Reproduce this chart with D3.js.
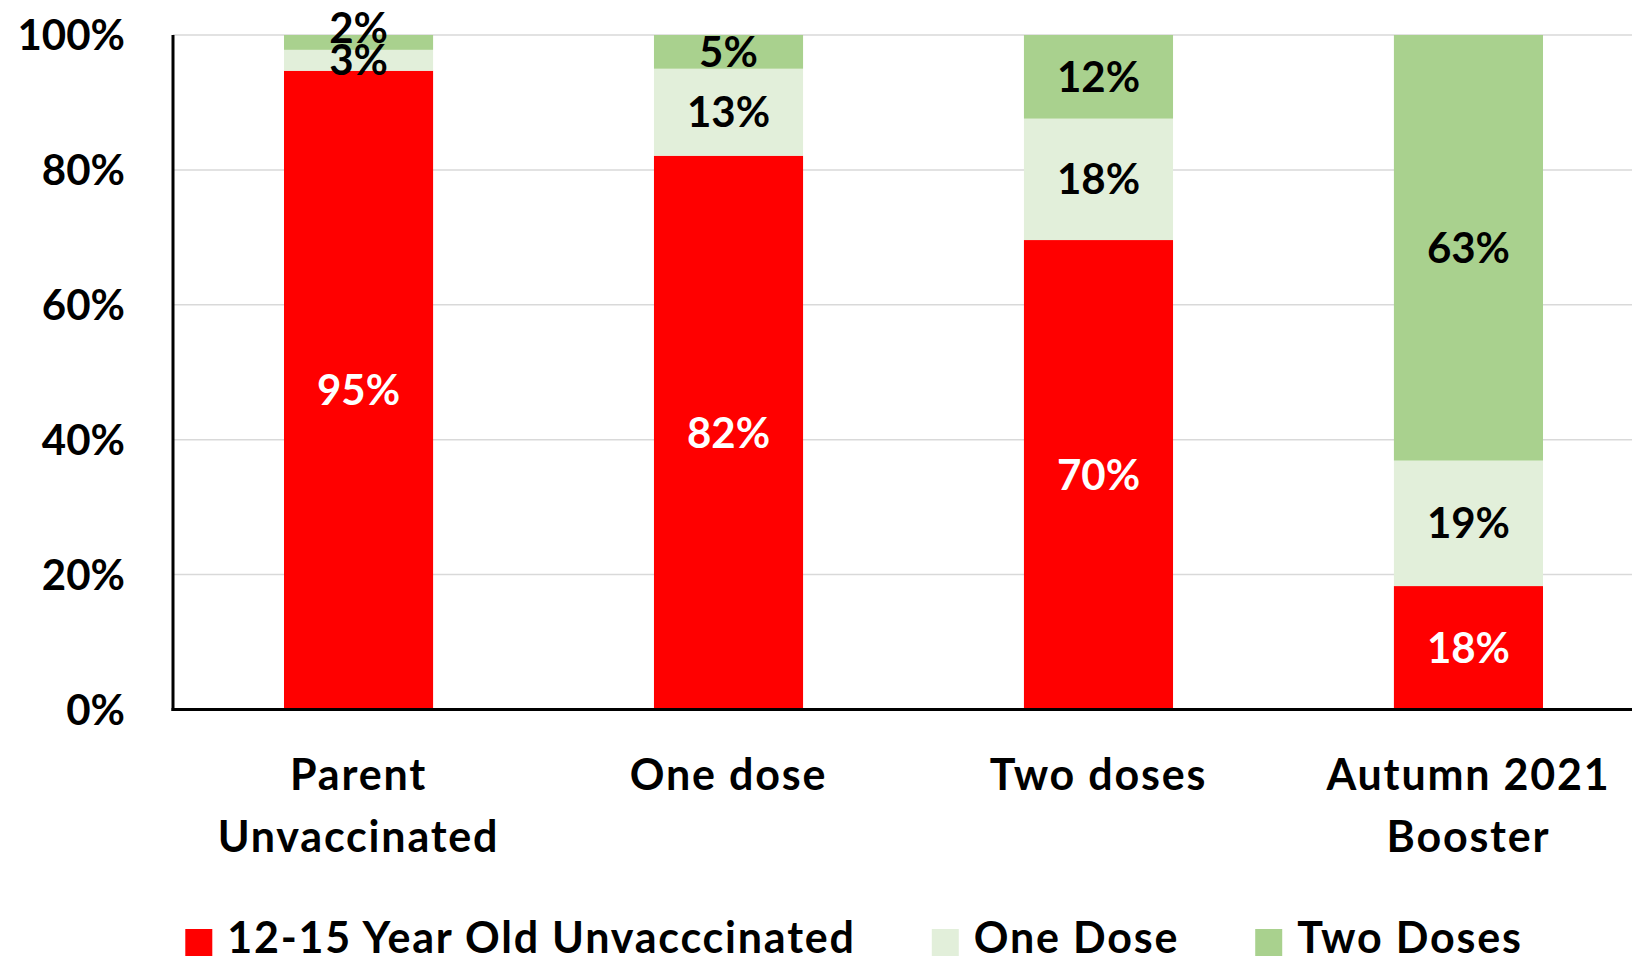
<!DOCTYPE html>
<html>
<head>
<meta charset="utf-8">
<script src="https://cdn.jsdelivr.net/npm/d3@7/dist/d3.min.js"></script>
<style>
  body { margin: 0; background: #fff; }
  svg { display: block; }
  text { font-family: Lato, 'Open Sans', sans-serif; font-weight: bold; fill: #000; }
</style>
</head>
<body>
<svg width="1632" height="958"></svg>
<script>
// categories and series (percent of total)
const categories = ['Parent\nUnvaccinated', 'One dose', 'Two doses', 'Autumn 2021\nBooster']
const seriesNames = ['12-15 Year Old Unvacccinated', 'One Dose', 'Two Doses']
const unvaccinated = [94.7, 82.1, 69.6, 18.3]
const oneDose = [3.1, 12.9, 18.0, 18.6]
const twoDoses = [2.2, 5.0, 12.4, 63.1]
const yTicks = [0, 20, 40, 60, 80, 100]

const colors = ['#ff0000', '#e2efda', '#a9d18e']
const labelColors = ['#fff', '#000', '#000']

const svg = d3.select('svg')
const W = 1632
const fontSize = 42
const wordSize = 43

const rows = categories.map((c, i) => ({
  cat: c,
  s0: unvaccinated[i],
  s1: oneDose[i],
  s2: twoDoses[i]
}))

const x = d3.scaleBand()
  .domain(categories)
  .range([173, 1654])
  .paddingInner(0.597)
  .paddingOuter(0.3)

const y = d3.scaleLinear()
  .domain([0, 100])
  .range([709.5, 35])

// gridlines
svg.append('g')
  .selectAll('line')
  .data(yTicks.filter(d => d > 0))
  .enter().append('line')
    .attr('x1', 173)
    .attr('x2', W)
    .attr('y1', d => y(d))
    .attr('y2', d => y(d))
    .attr('stroke', '#d9d9d9')
    .attr('stroke-width', 1.5)

// y tick labels
svg.append('g')
  .selectAll('text')
  .data(yTicks)
  .enter().append('text')
    .attr('x', 125)
    .attr('y', d => y(d))
    .attr('dy', '0.36em')
    .attr('text-anchor', 'end')
    .attr('font-size', fontSize)
    .text(d => d + '%')

// stacked bars
const stack = d3.stack().keys(['s0', 's1', 's2'])
const series = stack(rows)

const layers = svg.append('g')
  .selectAll('g')
  .data(series)
  .enter().append('g')
    .attr('fill', (d, i) => colors[i])

layers.selectAll('rect')
  .data(d => d)
  .enter().append('rect')
    .attr('x', d => x(d.data.cat))
    .attr('width', x.bandwidth())
    .attr('y', d => y(d[1]))
    .attr('height', d => y(d[0]) - y(d[1]))

// value labels, centred in each segment; thin segments get nudged up so
// labels don't sit on top of each other
const fmt = v => Math.round(v) + '%'
const labelPos = categories.map(() => [])
categories.forEach((c, ci) => {
  let prev = Infinity
  series.forEach((layer, li) => {
    const d = layer[ci]
    let cy = y((d[0] + d[1]) / 2)
    if (prev - cy < 32) cy = prev - 32
    prev = cy
    labelPos[ci][li] = cy
  })
})

series.forEach((layer, li) => {
  svg.append('g')
    .selectAll('text')
    .data(layer)
    .enter().append('text')
      .attr('x', d => x(d.data.cat) + x.bandwidth() / 2)
      .attr('y', (d, i) => labelPos[i][li])
      .attr('dy', '0.36em')
      .attr('text-anchor', 'middle')
      .attr('font-size', fontSize)
      .style('fill', labelColors[li])
      .text(d => fmt(d[1] - d[0]))
})

// axes lines
svg.append('line')
  .attr('x1', 173).attr('x2', 173)
  .attr('y1', 35).attr('y2', 711)
  .attr('stroke', '#000').attr('stroke-width', 3)
svg.append('line')
  .attr('x1', 171.5).attr('x2', W)
  .attr('y1', 709.5).attr('y2', 709.5)
  .attr('stroke', '#000').attr('stroke-width', 3)

// category labels
const catLabels = svg.append('g')
  .selectAll('text')
  .data(categories)
  .enter().append('text')
    .attr('text-anchor', 'middle')
    .attr('font-size', wordSize)
    .attr('letter-spacing', 1.8)

catLabels.selectAll('tspan')
  .data(d => d.split('\n').map(t => ({ t: t, c: d })))
  .enter().append('tspan')
    .attr('x', d => x(d.c) + x.bandwidth() / 2)
    .attr('y', (d, i) => 790 + i * 62)
    .text(d => d.t)

// legend, centred like Excel does
const legend = svg.append('g')
const items = legend.selectAll('g')
  .data(seriesNames)
  .enter().append('g')

items.append('rect')
  .attr('width', 27)
  .attr('height', 27)
  .attr('y', 929)
  .attr('fill', (d, i) => colors[i])

items.append('text')
  .attr('x', 42)
  .attr('y', 953)
  .attr('font-size', wordSize)
  .attr('letter-spacing', 1.8)
  .text(d => d)

const widths = []
items.select('text').each(function () { widths.push(42 + this.getComputedTextLength()) })
const gap = 76
const total = d3.sum(widths) + gap * (widths.length - 1)
let cx = 854 - total / 2
items.attr('transform', (d, i) => {
  const t = 'translate(' + cx + ',0)'
  cx += widths[i] + gap
  return t
})
</script>
</body>
</html>
